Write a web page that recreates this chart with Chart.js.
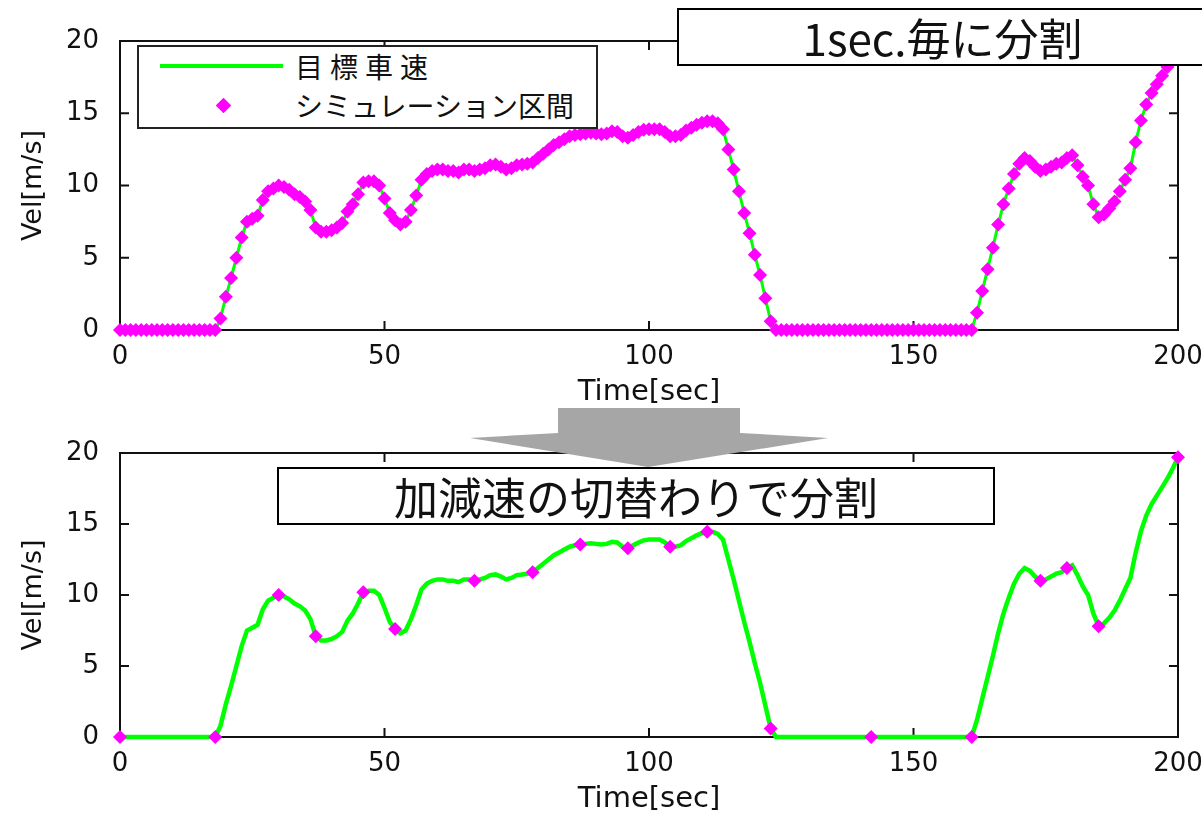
<!DOCTYPE html>
<html lang="ja">
<head>
<meta charset="utf-8">
<script src="https://cdn.jsdelivr.net/npm/chart.js@4.4.1/dist/chart.umd.min.js"></script>
<style>
html,body{margin:0;padding:0;background:#fff;overflow:hidden}
body{width:1202px;height:817px;position:relative}
canvas{position:absolute;left:0}
#c1{top:0}
#c2{top:410px}
#arrow{position:absolute;left:0;top:0}
.note{position:absolute;background:#fff;border:2px solid #000;box-sizing:border-box;
  font-family:"Noto Sans CJK JP";font-size:44px;line-height:54px;color:#111;text-align:center;white-space:nowrap}
#legend{position:absolute;left:137px;top:45px;width:461px;height:84px;border:2px solid #222;box-sizing:border-box;background:#fff;
  font-family:"Noto Sans CJK JP";font-size:28px;line-height:34px;color:#111}
#legend span{position:absolute;white-space:nowrap}
</style>
</head>
<body>
<canvas id="c1" width="1202" height="410"></canvas>
<canvas id="c2" width="1202" height="407"></canvas>
<svg id="arrow" width="1202" height="817">
  <polygon points="558,408 740,408 740,433 828,438 648,467 470,438 558,433" fill="#a6a6a6"/>
</svg>
<div id="legend">
  <span style="left:21px;top:17px;width:123px;height:4px;background:#00ff00"></span>
  <span style="left:156px;top:2px;letter-spacing:7px">目標車速</span>
  <span style="left:79px;top:53px;width:11px;height:11px;background:#ff00ff;transform:rotate(45deg)"></span>
  <span style="left:156px;top:41px">シミュレーション区間</span>
</div>
<div class="note" style="left:677px;top:8px;width:531px;height:58px">1sec.毎に分割</div>
<div class="note" style="left:277px;top:467px;width:718px;height:58px">加減速の切替わりで分割</div>
<script>
// time axis (sec) and target speed, one value per second
const timeSec = Array.from({length: 201}, (_, i) => i)
const targetVel = [
  0,0,0,0,0,0,0,0,0,0, 0,0,0,0,0,0,0,0,0,0.8,
  2.3,3.6,5.0,6.4,7.5,7.7,7.9,9.0,9.6,9.8,
  10.0,9.9,9.7,9.4,9.2,8.9,8.3,7.1,6.8,6.8,
  6.9,7.1,7.4,8.2,8.7,9.4,10.2,10.3,10.3,10.0,
  9.1,8.1,7.6,7.3,7.5,8.3,9.3,10.4,10.8,11.0,
  11.1,11.1,11.0,11.0,10.9,11.1,11.1,11.0,11.1,11.2,
  11.4,11.45,11.3,11.1,11.2,11.4,11.45,11.5,11.6,11.9,
  12.2,12.5,12.8,13.0,13.2,13.4,13.5,13.55,13.6,13.65,
  13.6,13.55,13.6,13.75,13.7,13.4,13.3,13.5,13.7,13.85,
  13.9,13.9,13.9,13.7,13.4,13.4,13.5,13.8,14.0,14.2,
  14.35,14.45,14.45,14.3,13.9,12.5,11.1,9.6,8.1,6.7,
  5.2,3.8,2.2,0.6,0,0,0,0,0,0,
  0,0,0,0,0,0,0,0,0,0, 0,0,0,0,0,0,0,0,0,0,
  0,0,0,0,0,0,0,0,0,0, 0,0,1.2,2.7,4.2,5.7,7.3,8.7,9.8,10.8,
  11.5,11.9,11.7,11.3,11.0,11.1,11.3,11.5,11.6,11.9,
  12.1,11.4,10.6,10.0,8.7,7.8,8.0,8.4,8.9,9.6,
  10.4,11.2,13.0,14.5,15.6,16.4,17.0,17.6,18.2,18.9,
  19.7
]
// accel/decel switching points used in the lower chart
const switchSec = [0, 18, 30, 37, 46, 52, 67, 78, 87, 96, 104, 111, 123, 142, 161, 174, 179, 185, 200]
const xTicks = [0, 50, 100, 150, 200]
const yTicks = [0, 5, 10, 15, 20]

const GREEN = '#00ff00'
const MAGENTA = '#ff00ff'
const tickFont = {family: 'DejaVu Sans', size: 26}

// box frame with inward tick marks (matlab style)
const frame = {
  id: 'frame',
  beforeDatasetsDraw(chart) {
    const {ctx, chartArea: a, scales} = chart
    ctx.save()
    ctx.strokeStyle = '#111'
    ctx.lineWidth = 2
    ctx.strokeRect(a.left, a.top, a.right - a.left, a.bottom - a.top)
    ctx.beginPath()
    xTicks.forEach(v => {
      const px = scales.x.getPixelForValue(v)
      ctx.moveTo(px, a.bottom); ctx.lineTo(px, a.bottom - 9)
      ctx.moveTo(px, a.top); ctx.lineTo(px, a.top + 9)
    })
    yTicks.forEach(v => {
      const py = scales.y.getPixelForValue(v)
      ctx.moveTo(a.left, py); ctx.lineTo(a.left + 9, py)
      ctx.moveTo(a.right, py); ctx.lineTo(a.right - 9, py)
    })
    ctx.stroke()
    ctx.restore()
  }
}

function makeChart(id, padTop, lineW, markerSec, markR) {
  const linePts = timeSec.map((t, i) => ({x: t, y: targetVel[i]}))
  const markPts = markerSec.map(t => ({x: t, y: targetVel[timeSec.indexOf(t)]}))
  return new Chart(document.getElementById(id), {
    type: 'line',
    data: {
      datasets: [
        { label: 'シミュレーション区間', data: markPts, showLine: false, pointStyle: 'rectRot',
          pointRadius: markR, pointBackgroundColor: MAGENTA, pointBorderColor: MAGENTA, pointBorderWidth: 0, clip: false, order: 0 },
        { label: '目標車速', data: linePts, borderColor: GREEN, borderWidth: lineW, pointRadius: 0,
          tension: 0, clip: false, order: 1 }
      ]
    },
    options: {
      responsive: false,
      animation: false,
      layout: { padding: {top: padTop, right: 24, left: 0, bottom: 0} },
      plugins: { legend: {display: false}, tooltip: {enabled: false} },
      scales: {
        x: {
          type: 'linear', min: 0, max: 200,
          afterBuildTicks: s => { s.ticks = xTicks.map(v => ({value: v})) },
          afterFit: s => { s.height = 80; s.paddingLeft = 0; s.paddingRight = 0 },
          grid: {display: false}, border: {display: false},
          ticks: {color: '#111', font: tickFont, padding: 4, maxRotation: 0},
          title: {display: true, text: 'Time[sec]', color: '#111', font: {family: 'DejaVu Sans', size: 29}, padding: {top: 0, bottom: 0}}
        },
        y: {
          min: 0, max: 20,
          afterBuildTicks: s => { s.ticks = yTicks.map(v => ({value: v})) },
          afterFit: s => { s.width = 120; s.paddingTop = 0; s.paddingBottom = 0 },
          grid: {display: false}, border: {display: false},
          ticks: {color: '#111', font: tickFont, padding: 13},
          title: {display: true, text: 'Vel[m/s]', color: '#111', font: {family: 'DejaVu Sans', size: 27}, padding: {top: 18, bottom: 0}}
        }
      }
    },
    plugins: [frame]
  })
}

makeChart('c1', 41, 3, timeSec, 7)
makeChart('c2', 43, 4.5, switchSec, 7)
</script>
</body>
</html>
